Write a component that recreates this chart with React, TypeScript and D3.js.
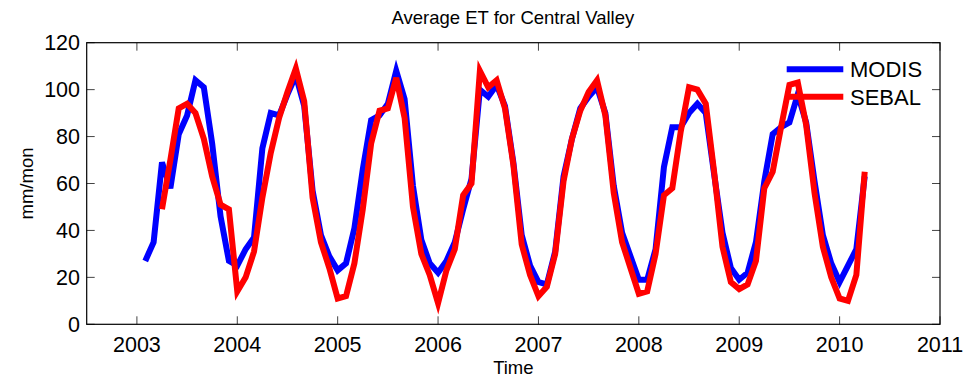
import React from "react";
import * as d3 from "d3";

// Monthly series: index k => time 2003 + k/12
const modisStartK = 1;
const modisValues = [
  27, 35, 69, 58, 81, 89, 104, 101, 77, 46, 27, 25,
  32, 37, 75, 90, 89, 98, 106, 93, 57, 38, 29, 23,
  26, 41, 66, 87, 89, 94, 108, 96, 59, 36, 26, 22,
  27, 35, 49, 62, 100, 97, 102, 93, 69, 38, 25, 18,
  17, 31, 63, 79, 92, 97, 101, 90, 59, 39, 29, 19,
  19, 32, 67, 84, 84, 90, 94, 90, 64, 39, 24, 19,
  22, 35, 61, 81, 84, 86, 98, 86, 61, 38, 26, 18,
  25, 32, 63,
];
const sebalStartK = 3;
const sebalValues = [
  49, 70, 92, 94, 90, 79, 63, 51, 49, 14,
  20, 31, 54, 73, 88, 99, 109, 95, 54, 35, 24, 11,
  12, 26, 49, 77, 91, 92, 105, 88, 50, 30, 21, 9,
  23, 32, 55, 60, 108, 101, 104, 92, 68, 34, 21, 12,
  16, 30, 61, 79, 91, 99, 104, 89, 56, 35, 24, 13,
  14, 30, 55, 58, 82, 101, 100, 94, 65, 33, 18, 15,
  17, 27, 58, 65, 84, 102, 103, 85, 56, 33, 20, 11,
  10, 21, 65,
];
const xTicks = [2003, 2004, 2005, 2006, 2007, 2008, 2009, 2010, 2011];
const yTicks = [0, 20, 40, 60, 80, 100, 120];
const seriesNames = ["MODIS", "SEBAL"];
const seriesColors = ["#0000ff", "#ff0000"];
const titleText = "Average ET for Central Valley";
const xLabel = "Time";
const yLabel = "mm/mon";

const W = 967;
const H = 377;
const L = 86.7, R = 940, T = 42.7, B = 324.3;

export default function App() {
  const x = d3.scaleLinear().domain([2002.5, 2011]).range([L, R]);
  const y = d3.scaleLinear().domain([0, 120]).range([B, T]);
  const toPts = (vals: number[], startK: number) =>
    vals.map((v, i) => [2003 + (startK + i) / 12, v] as [number, number]);
  const line = d3
    .line<[number, number]>()
    .x((d) => x(d[0]))
    .y((d) => y(d[1]));
  const series = [toPts(modisValues, modisStartK), toPts(sebalValues, sebalStartK)];
  const tickLen = 8;
  const font = "Liberation Sans, Arial, Helvetica, sans-serif";
  return (
    <svg
      width={W}
      height={H}
      style={{ position: "absolute", left: 0, top: 0, background: "#fff" }}
      fontFamily={font}
    >
      <rect x={0} y={0} width={W} height={H} fill="#fff" />
      <text x={(L + R) / 2 - 0.5} y={24} fontSize={18.5} textAnchor="middle" fill="#000">
        {titleText}
      </text>
      {xTicks.map((t) => (
        <g key={"x" + t}>
          <line x1={x(t)} x2={x(t)} y1={B} y2={B - tickLen} stroke="#444" strokeWidth={1} />
          <line x1={x(t)} x2={x(t)} y1={T} y2={T + tickLen} stroke="#444" strokeWidth={1} />
          <text x={x(t)} y={352} fontSize={21.5} textAnchor="middle" fill="#000">
            {t}
          </text>
        </g>
      ))}
      {yTicks.map((t) => (
        <g key={"y" + t}>
          <line x1={L} x2={L + tickLen} y1={y(t)} y2={y(t)} stroke="#444" strokeWidth={1} />
          <line x1={R} x2={R - tickLen} y1={y(t)} y2={y(t)} stroke="#444" strokeWidth={1} />
          <text x={80} y={y(t) + 7.5} fontSize={21.5} textAnchor="end" fill="#000">
            {t}
          </text>
        </g>
      ))}
      <text x={(L + R) / 2} y={374} fontSize={18.5} textAnchor="middle" fill="#000">
        {xLabel}
      </text>
      <text
        transform={`translate(33, ${(T + B) / 2}) rotate(-90)`}
        fontSize={18.5}
        textAnchor="middle"
        fill="#000"
      >
        {yLabel}
      </text>
      {series.map((pts, i) => (
        <path
          key={seriesNames[i]}
          d={line(pts) || ""}
          fill="none"
          stroke={seriesColors[i]}
          strokeWidth={6}
          strokeLinejoin="miter"
          strokeMiterlimit={4}
        />
      ))}
      <rect x={L} y={T} width={R - L} height={B - T} fill="none" stroke="#000" strokeWidth={1.2} />
      {seriesNames.map((n, i) => (
        <g key={"lg" + n}>
          <line
            x1={786.7}
            x2={843.3}
            y1={69.3 + i * 27.4}
            y2={69.3 + i * 27.4}
            stroke={seriesColors[i]}
            strokeWidth={6}
          />
          <text x={850} y={69.3 + i * 27.4 + 8} fontSize={22} fill="#000">
            {n}
          </text>
        </g>
      ))}
    </svg>
  );
}
